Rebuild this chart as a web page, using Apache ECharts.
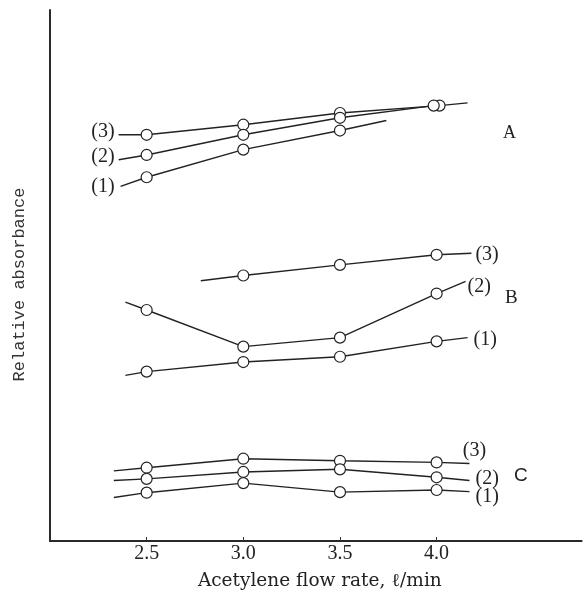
<!DOCTYPE html>
<html><head><meta charset="utf-8">
<style>html,body{margin:0;padding:0;background:#fff}#c{width:587px;height:596px}</style>
<script src="https://cdn.jsdelivr.net/npm/echarts@6/dist/echarts.min.js"></script>
</head><body><div id="c"></div>
<script>
// ---- data (relative absorbance, arbitrary units 0-100) ----
const xTicks = [2.5, 3.0, 3.5, 4.0];
const tickLabels = ['2.5', '3.0', '3.5', '4.0'];

// group A
const A3_x = [2.5, 3.0, 3.5, 4.015];
const A3_y = [76.5, 78.4, 80.6, 82.0];
const A3_start = [2.355, 76.5];
const A3_end = [4.16, 82.5];

const A2_x = [2.5, 3.0, 3.5, 3.985];
const A2_y = [72.7, 76.5, 79.7, 82.0];
const A2_start = [2.355, 71.8];

const A1_x = [2.5, 3.0, 3.5];
const A1_y = [68.5, 73.7, 77.3];
const A1_start = [2.365, 66.8];
const A1_end = [3.74, 79.2];

// group B
const B3_x = [3.0, 3.5, 4.0];
const B3_y = [50.0, 52.0, 53.9];
const B3_start = [2.78, 49.0];
const B3_end = [4.18, 54.2];

const B2_x = [2.5, 3.0, 3.5, 4.0];
const B2_y = [43.5, 36.6, 38.3, 46.6];
const B2_start = [2.39, 45.0];
const B2_end = [4.15, 48.9];

const B1_x = [2.5, 3.0, 3.5, 4.0];
const B1_y = [31.9, 33.7, 34.7, 37.6];
const B1_start = [2.39, 31.2];
const B1_end = [4.16, 38.3];

// group C
const C3_x = [2.5, 3.0, 3.5, 4.0];
const C3_y = [13.8, 15.5, 15.1, 14.8];
const C3_start = [2.33, 13.2];
const C3_end = [4.17, 14.6];

const C2_x = [2.5, 3.0, 3.5, 4.0];
const C2_y = [11.7, 13.0, 13.5, 12.0];
const C2_start = [2.33, 11.4];
const C2_end = [4.17, 11.4];

const C1_x = [2.5, 3.0, 3.5, 4.0];
const C1_y = [9.1, 10.9, 9.2, 9.6];
const C1_start = [2.33, 8.2];
const C1_end = [4.17, 9.3];

// ---- build ----
const INK = '#222';
const labelFont = {fontFamily: 'Liberation Serif', fontSize: 20, color: INK};

function endItem(pt, lab) {
  const it = {value: pt, symbolSize: 0};
  if (lab) it.label = Object.assign({show: true}, labelFont, lab);
  return it;
}
function mk(name, xs, ys, start, end, startLab, endLab) {
  const data = [];
  if (start) data.push(endItem(start, startLab));
  xs.forEach((x, i) => data.push({value: [x, ys[i]]}));
  if (end) data.push(endItem(end, endLab));
  return {
    name, type: 'line', data,
    symbol: 'circle', symbolSize: 11, showSymbol: true,
    itemStyle: {color: '#fff', borderColor: INK, borderWidth: 1.2},
    lineStyle: {color: INK, width: 1.4},
    emphasis: {disabled: true}, silent: true, animation: false
  };
}

const series = [
  mk('A(3)', A3_x, A3_y, A3_start, A3_end, {formatter: '(3)', position: 'left', distance: 4, offset: [0, -3]}),
  mk('A(2)', A2_x, A2_y, A2_start, null, {formatter: '(2)', position: 'left', distance: 4, offset: [0, -3]}),
  mk('A(1)', A1_x, A1_y, A1_start, A1_end, {formatter: '(1)', position: 'left', distance: 6, offset: [0, 0]}),
  mk('B(3)', B3_x, B3_y, B3_start, B3_end, null, {formatter: '(3)', position: 'right', distance: 4, offset: [0, 2]}),
  mk('B(2)', B2_x, B2_y, B2_start, B2_end, null, {formatter: '(2)', position: 'right', distance: 2, offset: [0, 5]}),
  mk('B(1)', B1_x, B1_y, B1_start, B1_end, null, {formatter: '(1)', position: 'right', distance: 6, offset: [0, 2]}),
  mk('C(3)', C3_x, C3_y, C3_start, C3_end, null, {formatter: '(3)', position: 'top', distance: 3, offset: [5, 0]}),
  mk('C(2)', C2_x, C2_y, C2_start, C2_end, null, {formatter: '(2)', position: 'right', distance: 6, offset: [0, -2]}),
  mk('C(1)', C1_x, C1_y, C1_start, C1_end, null, {formatter: '(1)', position: 'right', distance: 6, offset: [0, 5]})
];

const chart = echarts.init(document.getElementById('c'), null, {renderer: 'canvas'});
chart.setOption({
  backgroundColor: '#fff',
  animation: false,
  grid: {left: 50, right: 5.4, top: 10, bottom: 54.3, containLabel: false},
  xAxis: {
    type: 'value', min: 2.0, max: 4.75, interval: 0.5,
    splitLine: {show: false},
    axisLine: {show: true, lineStyle: {color: '#2a2a2a', width: 2}},
    axisTick: {show: true, inside: true, length: 4, customValues: xTicks, lineStyle: {color: '#333', width: 1}},
    axisLabel: {
      show: true, customValues: xTicks, margin: 3,
      formatter: v => tickLabels[xTicks.indexOf(v)] ?? '',
      fontFamily: 'Liberation Serif', fontSize: 20, color: INK
    },
    name: 'Acetylene flow rate, ℓ/min', nameLocation: 'middle', nameGap: 31,
    nameTextStyle: {fontFamily: 'DejaVu Serif', fontSize: 18.5, color: INK, padding: [0, 0, 0, 8]}
  },
  yAxis: {
    type: 'value', min: 0, max: 100,
    splitLine: {show: false},
    axisLine: {show: true, lineStyle: {color: '#2a2a2a', width: 2}},
    axisTick: {show: false}, axisLabel: {show: false},
    name: 'Relative absorbance', nameLocation: 'middle', nameGap: 22, nameRotate: 90,
    nameTextStyle: {fontFamily: 'Liberation Mono', fontSize: 17, color: '#333', padding: [0, 18, 0, 0]}
  },
  graphic: [
    {type: 'text', left: 503, top: 124, style: {text: 'A', font: '18px "Liberation Serif"', fill: INK}},
    {type: 'text', left: 505, top: 289, style: {text: 'B', font: '19px "Liberation Serif"', fill: INK}},
    {type: 'text', left: 514, top: 466, style: {text: 'C', font: '19px "Liberation Sans"', fill: INK}}
  ],
  series
});
</script></body></html>
